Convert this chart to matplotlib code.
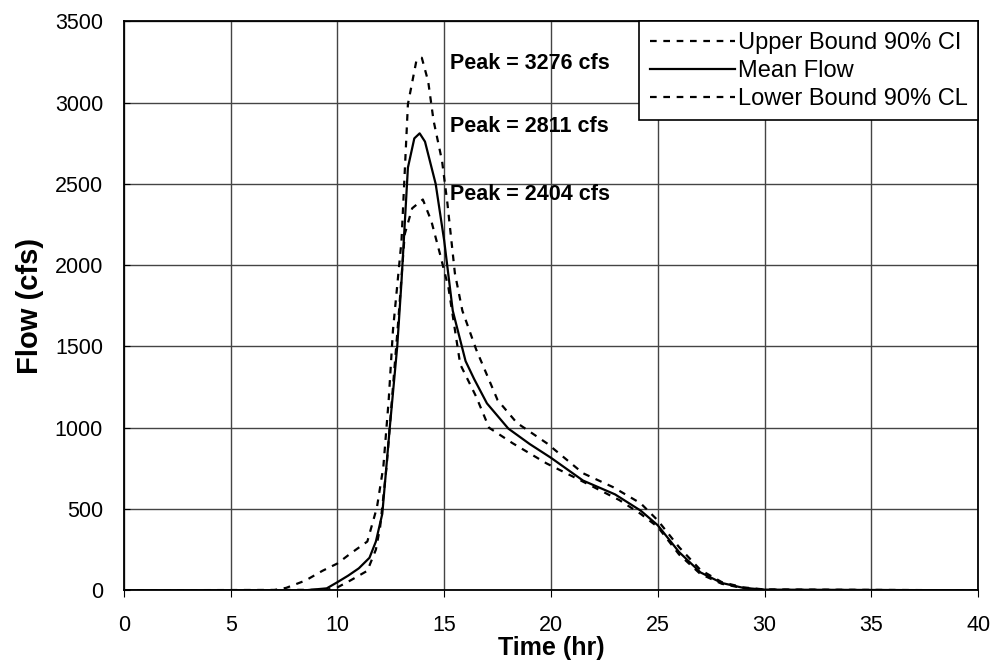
import matplotlib
matplotlib.use("Agg")
import matplotlib.pyplot as plt

# Hydrograph data (time in hr, flow in cfs)
t_upper = [0, 7.0, 7.6, 8.5, 9.3, 10.0, 10.6, 11.4, 11.85, 12.15, 12.4, 12.6, 13.0, 13.3,
           13.7, 13.95, 14.25, 14.5, 14.9, 15.15, 15.5, 15.85, 16.5, 17.5, 18.4, 19.8,
           21.5, 22.9, 24.2, 25.0, 26.0, 27.0, 28.0, 29.0, 30.0, 40]
q_upper = [0, 0, 15, 60, 120, 165, 225, 300, 510, 760, 1170, 1600, 2150, 2990,
           3260, 3276, 3130, 2890, 2640, 2380, 1950, 1720, 1480, 1170, 1030, 905,
           720, 635, 535, 430, 265, 125, 50, 18, 5, 0]

t_mean = [0, 8.5, 9.5, 10.0, 10.5, 11.0, 11.5, 11.8, 12.1, 12.45, 12.8, 13.0, 13.3,
          13.6, 13.85, 14.1, 14.6, 15.0, 15.4, 16.0, 16.4, 17.0, 18.0, 19.0, 20.0,
          21.5, 23.0, 24.2, 25.0, 26.0, 27.0, 28.0, 29.0, 30.0, 40]
q_mean = [0, 0, 12, 50, 90, 135, 200, 300, 470, 1000, 1500, 1900, 2600,
          2780, 2811, 2760, 2500, 2150, 1720, 1410, 1300, 1150, 995, 900, 815,
          675, 590, 490, 400, 235, 110, 45, 15, 4, 0]

t_lower = [0, 9.5, 10.0, 10.6, 11.4, 11.8, 12.0, 12.3, 12.55, 12.85, 13.15, 13.5, 14.0,
           14.4, 14.8, 15.2, 15.75, 16.5, 17.1, 18.2, 19.8, 21.4, 23.2, 24.2, 25.0,
           26.0, 27.0, 28.0, 29.0, 30.0, 40]
q_lower = [0, 3, 18, 60, 120, 250, 390, 760, 1170, 1660, 2190, 2350, 2404,
           2270, 2070, 1860, 1390, 1190, 1000, 905, 780, 675, 555, 470, 390,
           220, 100, 40, 13, 3, 0]

peak_labels = ["Peak = 3276 cfs", "Peak = 2811 cfs", "Peak = 2404 cfs"]
peak_label_y = [3242, 2855, 2437]

plt.rcParams['font.family'] = ['Liberation Sans', 'DejaVu Sans']

fig = plt.figure(figsize=(9.91, 6.67), dpi=100)
ax = fig.add_axes([0.125, 0.115, 0.862, 0.853])

ax.plot(t_upper, q_upper, color='black', linestyle=(0, (3, 3)), linewidth=1.6,
        label='Upper Bound 90% CI')
ax.plot(t_mean, q_mean, color='black', linestyle='-', linewidth=1.6, label='Mean Flow')
ax.plot(t_lower, q_lower, color='black', linestyle=(0, (3, 3)), linewidth=1.6,
        label='Lower Bound 90% CL')

for txt, yy in zip(peak_labels, peak_label_y):
    ax.text(15.25, yy, txt, fontsize=15.5, fontweight='bold', va='center', ha='left')

ax.set_xlim(0, 40)
ax.set_ylim(0, 3500)
ax.set_xticks(range(0, 41, 5))
ax.set_yticks(range(0, 3501, 500))
ax.grid(True, color='#444444', linewidth=1.0)
for s in ax.spines.values():
    s.set_linewidth(1.3)
    s.set_color('black')

ax.tick_params(axis='x', direction='out', length=5, pad=13, labelsize=15.5)
ax.tick_params(axis='y', direction='in', length=4, pad=15, labelsize=15.5)

ax.set_xlabel('Time (hr)', fontsize=18, fontweight='bold', labelpad=0)
ax.set_ylabel('Flow (cfs)', fontsize=21, fontweight='bold', labelpad=8)

leg = ax.legend(loc='upper right', fontsize=17, frameon=True, fancybox=False,
                borderaxespad=0, handlelength=3.6, labelspacing=0.25,
                borderpad=0.45, handletextpad=0.12)
leg.get_frame().set_edgecolor('black')
leg.get_frame().set_linewidth(1.2)
leg.get_frame().set_alpha(1)

fig.savefig('out.png', dpi=100)
